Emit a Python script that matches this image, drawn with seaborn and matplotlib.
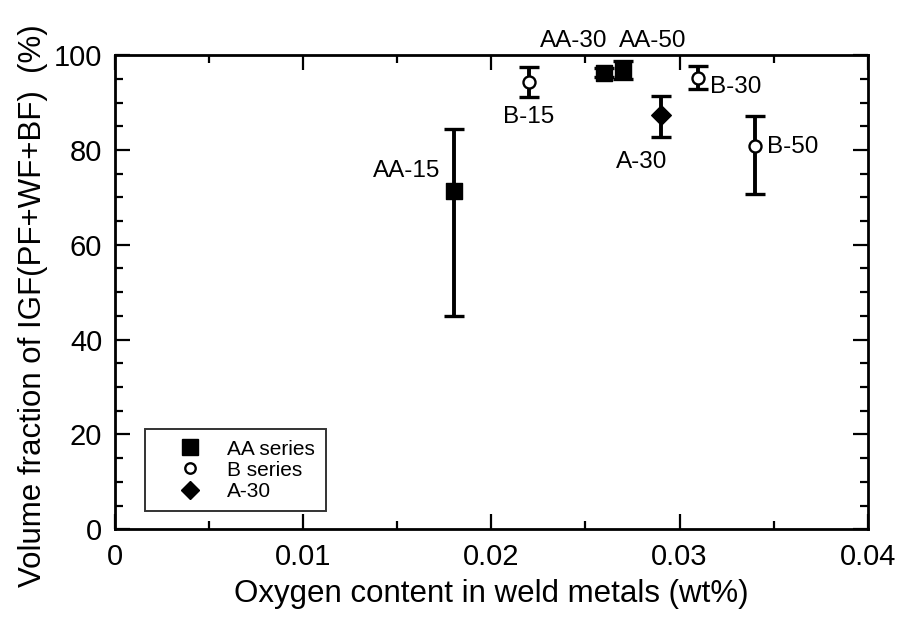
import matplotlib
matplotlib.use("Agg")
import matplotlib.pyplot as plt
from matplotlib.lines import Line2D
from matplotlib.ticker import MultipleLocator
import pandas as pd
import seaborn as sns

# Weld metal samples
labels = ["AA-15", "AA-30", "AA-50", "B-15", "B-30", "B-50", "A-30"]
series = ["AA series", "AA series", "AA series", "B series", "B series", "B series", "A-30"]
oxygen = [0.018, 0.026, 0.027, 0.022, 0.031, 0.034, 0.029]
igf = [71.3, 96.3, 96.8, 94.4, 95.2, 80.9, 87.3]
err_upper = [84.4, 97.3, 98.7, 97.4, 97.7, 87.2, 91.4]
err_lower = [44.9, 95.3, 95.0, 91.1, 92.8, 70.8, 82.8]
x_ticks = [0, 0.01, 0.02, 0.03, 0.04]
x_ticklabels = ["0", "0.01", "0.02", "0.03", "0.04"]

df = pd.DataFrame({"label": labels, "series": series, "oxygen": oxygen,
                   "igf": igf, "hi": err_upper, "lo": err_lower})

sns.set_style("ticks")
plt.rcParams["font.family"] = ["Liberation Sans", "DejaVu Sans"]
plt.rcParams["text.color"] = "black"
plt.rcParams["axes.labelcolor"] = "black"
plt.rcParams["xtick.color"] = "black"
plt.rcParams["ytick.color"] = "black"

fig, ax = plt.subplots(figsize=(9.04, 6.19), dpi=100)
fig.subplots_adjust(left=0.127, right=0.960, top=0.911, bottom=0.145)

# error bars
ax.errorbar(df["oxygen"], df["igf"],
            yerr=[df["igf"] - df["lo"], df["hi"] - df["igf"]],
            fmt="none", ecolor="black", elinewidth=2.8, capsize=7.5,
            capthick=2.4, zorder=2)

markers = {"AA series": "s", "B series": "o", "A-30": "D"}
styles = {
    "AA series": dict(s=135, color="black", edgecolor="black", linewidth=1),
    "B series": dict(s=75, color="white", edgecolor="black", linewidth=1.7),
    "A-30": dict(s=100, color="black", edgecolor="black", linewidth=1),
}
for name, sub in df.groupby("series", sort=False):
    sns.scatterplot(data=sub, x="oxygen", y="igf", marker=markers[name],
                    ax=ax, zorder=3, legend=False, **styles[name])

# point labels: (x, baseline y, alignment)
label_pos = {
    "AA-15": (0.01549, 74.3, "center"),
    "B-15": (0.02197, 85.7, "center"),
    "AA-30": (0.02436, 101.75, "center"),
    "AA-50": (0.02858, 101.75, "center"),
    "A-30": (0.0280, 76.2, "center"),
    "B-30": (0.03161, 92.05, "left"),
    "B-50": (0.03463, 79.3, "left"),
}
for lab, (x, y, ha) in label_pos.items():
    ax.text(x, y, lab, ha=ha, va="baseline", fontsize=17.5, color="black",
            clip_on=False)

ax.set_xlim(0, 0.04)
ax.set_ylim(0, 100)
ax.set_xticks(x_ticks)
ax.set_xticklabels(x_ticklabels)
ax.xaxis.set_minor_locator(MultipleLocator(0.005))
ax.yaxis.set_major_locator(MultipleLocator(20))
ax.yaxis.set_minor_locator(MultipleLocator(5))

ax.tick_params(which="both", direction="in", top=True, right=True,
               width=1.6, colors="black", labelcolor="black", labelsize=21)
ax.tick_params(axis="x", which="major", pad=10)
ax.tick_params(axis="y", which="major", pad=9)
ax.tick_params(which="major", length=11)
ax.tick_params(which="minor", length=6)
for sp in ax.spines.values():
    sp.set_linewidth(2)
    sp.set_color("black")

ax.set_xlabel("Oxygen content in weld metals (wt%)", fontsize=22.5,
              labelpad=6, color="black")
ax.set_ylabel("Volume fraction of IGF(PF+WF+BF)  (%)", fontsize=22.5,
              color="black")
ax.yaxis.set_label_coords(-0.089, 0.4726)

handles = [
    Line2D([], [], linestyle="none", marker="s", markersize=11,
           markerfacecolor="black", markeredgecolor="black"),
    Line2D([], [], linestyle="none", marker="o", markersize=7.5,
           markerfacecolor="white", markeredgecolor="black", markeredgewidth=1.7),
    Line2D([], [], linestyle="none", marker="D", markersize=9.5,
           markerfacecolor="black", markeredgecolor="black"),
]
leg = ax.legend(handles, ["AA series", "B series", "A-30"],
                loc="lower left", bbox_to_anchor=(0.04, 0.038),
                fontsize=15, frameon=True, fancybox=False,
                handletextpad=0.15, labelspacing=0.1,
                borderpad=0.5, borderaxespad=0, handlelength=3.3,
                labelcolor="black")
leg.get_frame().set_edgecolor("black")
leg.get_frame().set_linewidth(1.4)

fig.savefig("out.png", dpi=100, facecolor="white")
